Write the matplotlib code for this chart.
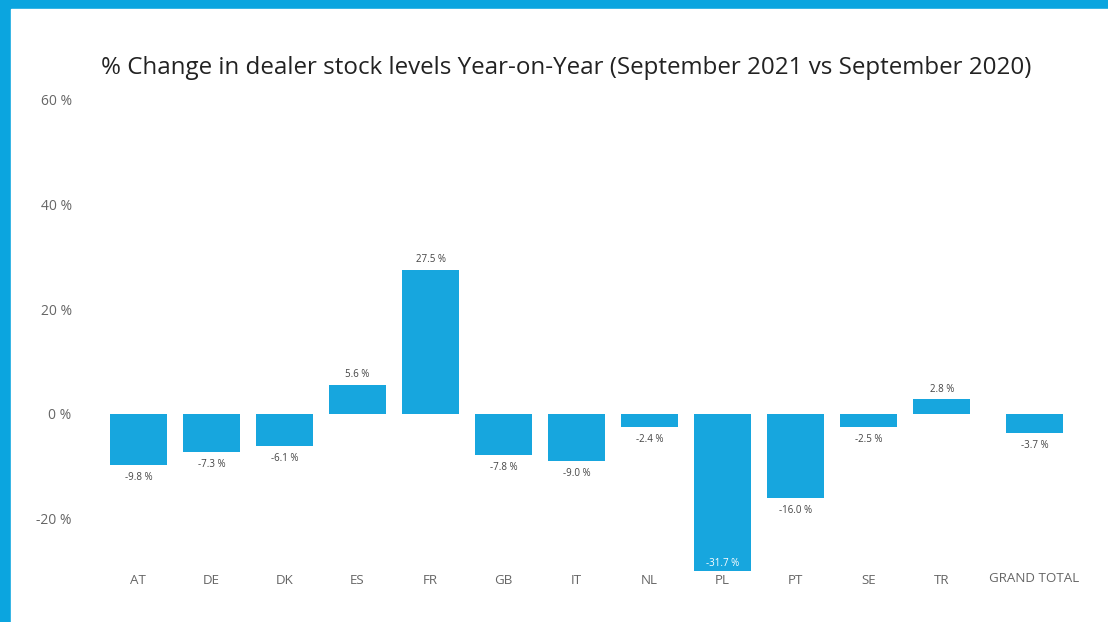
import matplotlib
matplotlib.use('Agg')
import matplotlib.pyplot as plt
import matplotlib.patches as patches

plt.rcParams['font.family'] = ['Open Sans', 'DejaVu Sans']
plt.rcParams['axes.unicode_minus'] = False

countries = ['AT', 'DE', 'DK', 'ES', 'FR', 'GB', 'IT', 'NL', 'PL', 'PT', 'SE', 'TR']
changes = [-9.8, -7.3, -6.1, 5.6, 27.5, -7.8, -9.0, -2.4, -31.7, -16.0, -2.5, 2.8]
total_label = 'GRAND TOTAL'
total_change = -3.7
yticks = [-20, 0, 20, 40, 60]
ytick_labels = ['-20 %', '0 %', '20 %', '40 %', '60 %']

title = '% Change in dealer stock levels Year-on-Year (September 2021 vs September 2020)'
bar_color = '#17a6de'
frame_color = '#0ba5df'

fig = plt.figure(figsize=(11.08, 6.22), dpi=100)
fig.patch.set_facecolor(frame_color)
# white panel inside the blue frame
fig.patches.append(patches.Rectangle((11 / 1108, 0), 1, (622 - 9) / 622,
                                     transform=fig.transFigure, color='white', zorder=-10))

ax = fig.add_axes([0.0722, 0.0812, 0.9116, 0.7765])
ax.set_facecolor('none')
ymin, ymax = -30, 62
ax.set_ylim(ymin, ymax)
ax.set_xlim(-0.80, 13.03)

xs = list(range(len(countries)))
total_x = 12.27
ax.bar(xs, changes, width=0.78, color=bar_color, zorder=2)
ax.bar([total_x], [total_change], width=0.78, color=bar_color, zorder=2)

# value labels
for x, v in zip(xs + [total_x], changes + [total_change]):
    txt = '%.1f %%' % v
    if v < ymin:
        ax.annotate(txt, (x, ymin), xytext=(0, 6), textcoords='offset points',
                    ha='center', va='center', fontsize=7, color='white', zorder=3)
    elif v >= 0:
        ax.annotate(txt, (x, v), xytext=(0, 7), textcoords='offset points',
                    ha='center', va='center', fontsize=7, color='#444444', zorder=3)
    else:
        ax.annotate(txt, (x, v), xytext=(0, -9), textcoords='offset points',
                    ha='center', va='center', fontsize=7, color='#444444', zorder=3)

ax.set_yticks(yticks)
ax.set_yticklabels(ytick_labels, fontsize=10, color='#666666')
ax.set_xticks(xs + [total_x])
ax.set_xticklabels(countries + [total_label], fontsize=9.6, color='#666666')
ax.tick_params(axis='both', length=0)
ax.tick_params(axis='x', pad=2)
ax.tick_params(axis='y', pad=6)
# the grand total label sits a little higher in the source
ax.get_xticklabels()[-1].set_y(0.005)
for s in ax.spines.values():
    s.set_visible(False)

fig.text(0.511, 0.89, title, ha='center', va='center', fontsize=17.4, color='#222222')

fig.savefig('out.png', dpi=100, facecolor=fig.get_facecolor())
